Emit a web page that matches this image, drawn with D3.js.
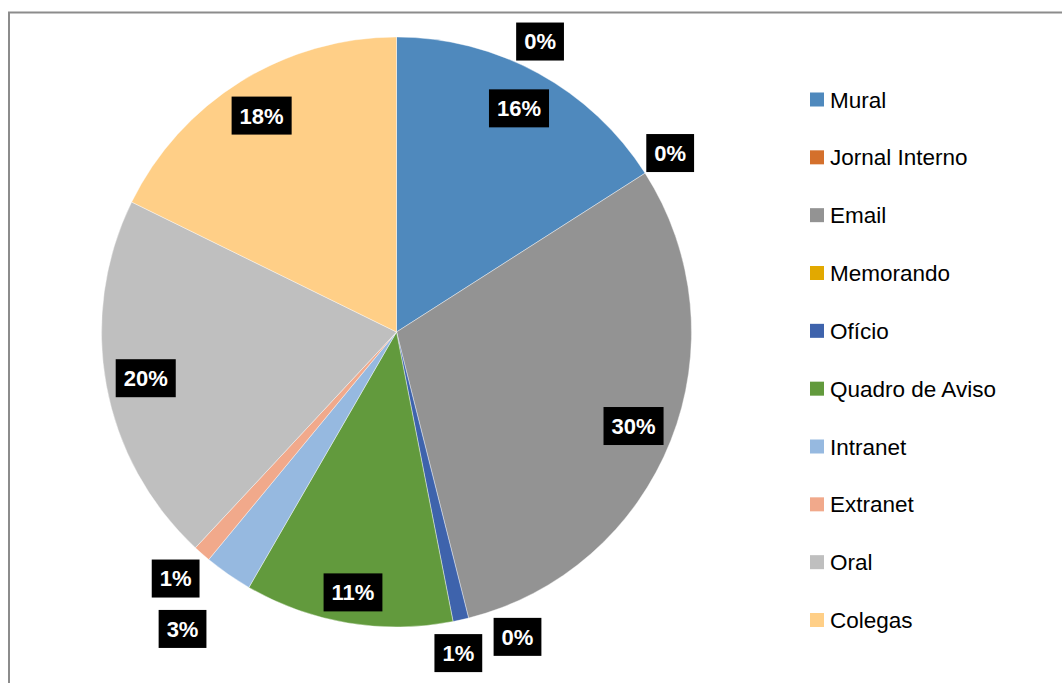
<!DOCTYPE html>
<head>
  <meta charset="utf-8">
  <script src="https://d3js.org/d3.v7.min.js"></script>
  <style>
    body { margin:0; background:#fff; }
    .frame { fill:none; stroke:#8c8c8c; stroke-width:2; }
    .lbl text { font-family:"Liberation Sans", Arial, sans-serif; font-weight:bold; font-size:22px; fill:#fff; }
    .legend text { font-family:"Liberation Sans", Arial, sans-serif; font-size:22.5px; fill:#000; }
  </style>
</head>

<body>
  <script>
  // ---------- data ----------
    var categories = ["Mural", "Jornal Interno", "Email", "Memorando", "Ofício",
                      "Quadro de Aviso", "Intranet", "Extranet", "Oral", "Colegas", ""];
    var values = [15.95, 0, 30.12, 0, 0.86, 11.41, 2.64, 0.96, 20.32, 17.74, 0];
    var colors = ["#4f89bd", "#d4702c", "#939393", "#e2a900", "#3e63ac",
                  "#629a3d", "#96b9e0", "#f1a98b", "#bfbfbf", "#ffcf87", "#4f89bd"];

  // ---------- layout ----------
    var width = 1062, height = 683;
    var cx = 396.5, cy = 332, radius = 295;
    var inR = 255;
    // outside labels: [angle nudge in degrees, radius]
    var outside = {1: [-0.6, 327], 3: [-7.5, 328], 4: [1.7, 327], 6: [1, 366], 7: [0.6, 331], 10: [26.3, 324]};
    var nudgeIn = {5: 9};

    var svg = d3.select("body").append("svg")
      .attr("width", width)
      .attr("height", height);

    svg.append("rect").attr("class", "frame")
      .attr("x", 9).attr("y", 12.5)
      .attr("width", 1060).attr("height", 700);

    var data = categories.map((c, i) => ({name: c, value: values[i], color: colors[i], i: i}));

    var pie = d3.pie().sort(null).value(d => d.value);
    var arcs = pie(data);
    var arc = d3.arc().innerRadius(0).outerRadius(radius);

    var g = svg.append("g").attr("transform", "translate(" + cx + "," + cy + ")");

    g.selectAll("path").data(arcs.filter(a => a.data.value > 0))
      .enter().append("path")
      .attr("d", arc)
      .attr("fill", d => d.data.color)
      .attr("stroke", "#fff")
      .attr("stroke-width", 0.4);

  // ---------- labels ----------
    var fmt = d3.format(".0f");
    arcs.forEach(function(a) {
      var i = a.data.i;
      var mid = (a.startAngle + a.endAngle) / 2;
      var r = inR + (nudgeIn[i] || 0);
      if (outside[i]) {
        mid += outside[i][0] * Math.PI / 180;
        r = outside[i][1];
      }
      var x = Math.sin(mid) * r, y = -Math.cos(mid) * r;
      var lg = g.append("g").attr("class", "lbl")
        .attr("transform", "translate(" + x + "," + y + ")");
      var t = lg.append("text")
        .attr("text-anchor", "middle")
        .attr("dy", "0.36em")
        .text(fmt(a.data.value) + "%");
      var w = t.node().getComputedTextLength();
      lg.insert("rect", "text")
        .attr("x", -w / 2 - 8).attr("y", -19)
        .attr("width", w + 16).attr("height", 38)
        .attr("fill", "#000");
    });

  // ---------- legend ----------
    var legendItems = data.filter(d => d.name !== "");
    var ly = d3.scalePoint().domain(legendItems.map(d => d.name)).range([99.5, 620]);

    var legend = svg.append("g").attr("class", "legend");
    var item = legend.selectAll("g").data(legendItems).enter().append("g")
      .attr("transform", d => "translate(810," + ly(d.name) + ")");
    item.append("rect")
      .attr("x", 0).attr("y", -7)
      .attr("width", 14).attr("height", 14)
      .attr("fill", d => d.color);
    item.append("text")
      .attr("x", 20).attr("dy", "0.36em")
      .text(d => d.name);
  </script>
</body>
